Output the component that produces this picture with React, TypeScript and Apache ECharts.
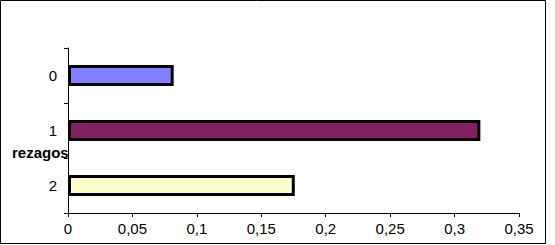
import React, { useEffect, useRef } from "react";
import * as echarts from "echarts";

const categories = ["0", "1", "2"];
const values = [0.082, 0.32, 0.176];
const barColors = ["#8080FF", "#802060", "#FFFFCC"];
const xTicks = [0, 0.05, 0.1, 0.15, 0.2, 0.25, 0.3, 0.35];
const axisTitle = "rezagos";

export default function App() {
  const ref = useRef<HTMLDivElement>(null);
  useEffect(() => {
    if (!ref.current) return;
    const chart = echarts.init(ref.current, null, { renderer: "svg" });
    const font = "'Liberation Sans', Arial, sans-serif";
    chart.setOption({
      animation: false,
      backgroundColor: "#ffffff",
      grid: { left: 68, right: 36, top: 48, bottom: 32, containLabel: false },
      xAxis: {
        type: "value",
        min: xTicks[0],
        max: xTicks[xTicks.length - 1],
        interval: 0.05,
        splitLine: { show: false },
        axisLine: { show: true, lineStyle: { color: "#000", width: 1 } },
        axisTick: { show: true, length: 4, lineStyle: { color: "#000" } },
        axisLabel: {
          color: "#000",
          fontFamily: font,
          fontSize: 15,
          margin: 8,
          formatter: (v: number) => String(Number(v.toFixed(2))).replace(".", ","),
        },
      },
      yAxis: {
        type: "category",
        data: categories,
        inverse: true,
        axisLine: { show: true, lineStyle: { color: "#000", width: 1 } },
        axisTick: { show: true, length: 4, lineStyle: { color: "#000" } },
        axisLabel: { color: "#000", fontFamily: font, fontSize: 15, margin: 11 },
      },
      series: [
        {
          type: "bar",
          data: values.map((v, i) => ({
            value: v,
            itemStyle: { color: barColors[i] },
          })),
          barWidth: 21,
          itemStyle: { borderColor: "#000", borderWidth: 3 },
        },
      ],
      graphic: [
        {
          type: "rect",
          shape: { x: 0.5, y: 0.5, width: 545, height: 243 },
          style: { fill: "none", stroke: "#000", lineWidth: 1 },
          z: 100,
        },
        {
          type: "text",
          x: 12,
          y: 152,
          style: {
            text: axisTitle,
            fill: "#000",
            font: `bold 15px ${font}`,
            verticalAlign: "middle",
          },
          z: 50,
        },
      ],
    });
    return () => chart.dispose();
  }, []);
  return (
    <div
      ref={ref}
      style={{ position: "fixed", left: 0, top: 0, width: 555, height: 245 }}
    />
  );
}
